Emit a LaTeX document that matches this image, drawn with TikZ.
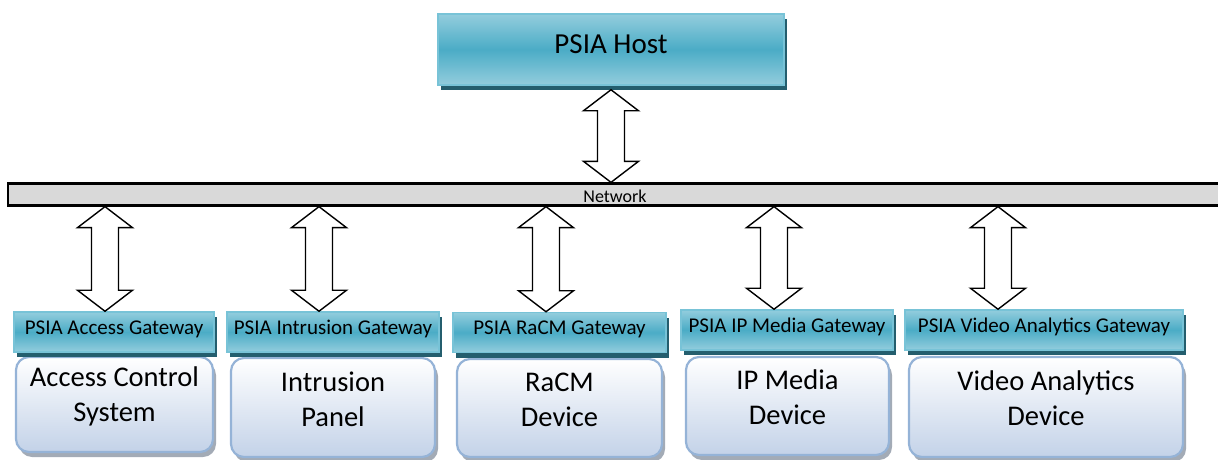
\documentclass[tikz,border=0pt]{standalone}
\usepackage{fontspec}
\setmainfont{Carlito}
\usetikzlibrary{calc,shadows}

\definecolor{gwlight}{HTML}{93CDDD}
\definecolor{gwmid}{HTML}{4BACC6}
\definecolor{gwedge}{HTML}{78C3D7}
\definecolor{gwshade}{HTML}{245E6E}
\definecolor{devlow}{HTML}{C3D2E8}
\definecolor{devedge}{HTML}{95B3D7}
\definecolor{devshade}{HTML}{A3ABB6}
\definecolor{netgray}{HTML}{D9D9D9}

\tikzset{
    gateway/.style={draw=gwedge, line width=1.5pt, top color=gwlight, bottom color=gwlight, middle color=gwmid,
        drop shadow={shadow xshift=3pt, shadow yshift=-5pt, fill=gwshade, opacity=1},
        minimum height=40pt, inner sep=0pt, font=\fontsize{21}{25}\selectfont, text height=13.5pt, text depth=9pt},
    device/.style={draw=devedge, line width=2.2pt, rounded corners=13pt, top color=white, bottom color=devlow,
        drop shadow={shadow xshift=3pt, shadow yshift=-5pt, fill=devshade, opacity=1}, inner sep=0pt},
    devtext/.style={align=center, font=\fontsize{28.5}{35}\selectfont},
    netbar/.style={draw=black, line width=2.3pt, fill=netgray, inner sep=0pt, font=\fontsize{18}{20}\selectfont},
    arrowline/.style={draw=black, line width=1.4pt, fill=white, line join=miter}
}

% hollow double arrow between two points
\newcommand\biarrow[2]{%
    \coordinate (tipA) at (#1);
    \coordinate (tipB) at (#2);
    \draw[arrowline] (tipA) -- ++(27.5,21) -- ++(-14,0) -- ($(tipB)+(13.5,-21)$) -- ++(14,0) -- (tipB)
        -- ++(-27.5,-21) -- ++(14,0) -- ($(tipA)+(-13.5,21)$) -- ++(-14,0) -- cycle;
}

\begin{document}
\begin{tikzpicture}[x=1pt, y=-1pt]
    \useasboundingbox (0,0) rectangle (1218,460);

    % host and network
    \node[gateway, minimum width=346pt, minimum height=71pt, font=\fontsize{29}{35}\selectfont, text height=19pt, text depth=10pt] (host) at (611,49.5) {PSIA Host};
    \node[netbar, minimum width=1214pt, minimum height=22pt, text height=18pt, text depth=2.4pt] (net) at (615,194.5) {Network};

    % devices
    \node[device, minimum width=197pt, minimum height=95pt] (dev1) at (114.5,404.5) {};
    \node[device, minimum width=204pt, minimum height=99pt] (dev2) at (333,407.5) {};
    \node[device, minimum width=205pt, minimum height=98pt] (dev3) at (559.5,408) {};
    \node[device, minimum width=203pt, minimum height=98pt] (dev4) at (787.5,406) {};
    \node[device, minimum width=274pt, minimum height=100pt] (dev5) at (1046,407) {};

    \node[devtext] (dev1txt) at ([yshift=8.5pt]dev1.center) {Access Control\\System};
    \node[devtext] (dev2txt) at ([yshift=8.5pt]dev2.center) {Intrusion\\Panel};
    \node[devtext] (dev3txt) at ([yshift=8.5pt]dev3.center) {RaCM\\Device};
    \node[devtext] (dev4txt) at ([yshift=8.5pt]dev4.center) {IP Media\\Device};
    \node[devtext] (dev5txt) at ([yshift=8.5pt]dev5.center) {Video Analytics\\Device};

    % gateways
    \node[gateway, minimum width=200pt] (gw1) at (114,332) {PSIA Access Gateway};
    \node[gateway, minimum width=212pt] (gw2) at (333,332) {PSIA Intrusion Gateway};
    \node[gateway, minimum width=213pt] (gw3) at (559.5,332.5) {PSIA RaCM Gateway};
    \node[gateway, minimum width=212pt] (gw4) at (787,330) {PSIA IP Media Gateway};
    \node[gateway, minimum width=278pt] (gw5) at (1044,330) {PSIA Video Analytics Gateway};

    % arrows
    \biarrow{[yshift=-4pt]host.south}{host.south |- net.north}
    \foreach \g/\ax in {gw1/105, gw2/319, gw3/546, gw4/774, gw5/998}{
        \biarrow{\ax,0 |- net.south}{\ax,0 |- \g.north}
    }
\end{tikzpicture}
\end{document}
